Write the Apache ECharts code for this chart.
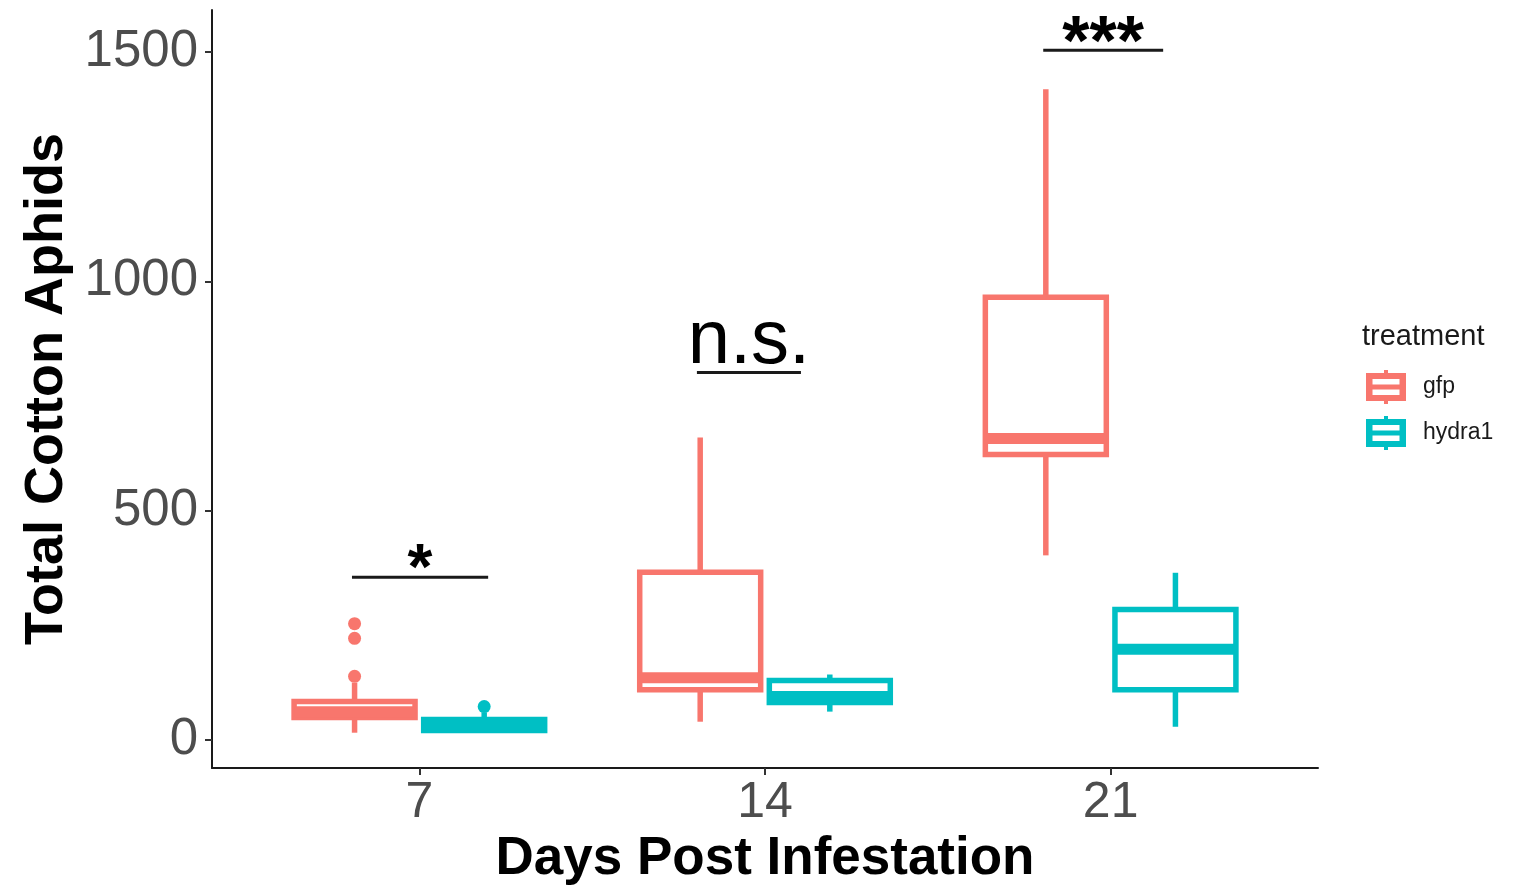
<!DOCTYPE html>
<html>
<head>
<meta charset="utf-8">
<script src="https://cdn.jsdelivr.net/npm/echarts@6/dist/echarts.min.js"></script>
<style>
  html, body { margin: 0; padding: 0; background: #fff; }
  #chart { width: 1514px; height: 887px; }
</style>
</head>
<body>
<div id="chart"></div>
<script>
// days post infestation
const days = ['7', '14', '21']
// [lower whisker, q1, median, q3, upper whisker]
const gfpStats = [
  [15, 48, 61, 83, 124],
  [39, 109, 135, 365, 659],
  [402, 622, 657, 965, 1419]
]
const hydraStats = [
  [15, 20, 28, 44, 59],
  [61, 81, 94, 129, 142],
  [28, 109, 197, 284, 364]
]
// outliers: [day index, value]
const gfpOutliers = [[0, 138], [0, 221], [0, 253]]
const hydraOutliers = [[0, 72]]
// significance brackets
const sigFrom = [0.805, 1.803, 2.805]
const sigTo = [1.199, 2.104, 3.152]
const sigY = [354, 801, 1504]
const sigText = ['*', 'n.s.', '***']
const yTicks = [0, 500, 1000, 1500]

const FONT = '"Liberation Sans", Arial, Helvetica, sans-serif'
const GFP = '#F8766D'
const HYDRA = '#00BFC4'
const DODGE = 0.1875
const BOX_W = 0.35
const LW = 5.5

const legendIcon = 'path://M18,0 L22,0 L22,3 L40,3 L40,31 L22,31 L22,34 L18,34 L18,31 L0,31 L0,3 L18,3 Z ' +
  'M6.5,9 L6.5,14.5 L33.5,14.5 L33.5,9 Z M6.5,19.5 L6.5,25 L33.5,25 L33.5,19.5 Z'

function boxRenderer(offset, color) {
  return function (params, api) {
    const x = api.value(0) + offset
    const low = api.coord([x, api.value(1)])
    const q1 = api.coord([x, api.value(2)])
    const med = api.coord([x, api.value(3)])
    const q3 = api.coord([x, api.value(4)])
    const high = api.coord([x, api.value(5)])
    const w = api.size([BOX_W, 0])[0]
    const left = low[0] - w / 2
    const stroke = { stroke: color, lineWidth: LW, fill: null }
    return {
      type: 'group',
      children: [
        { type: 'line', shape: { x1: low[0], y1: low[1], x2: low[0], y2: q1[1] }, style: stroke },
        { type: 'line', shape: { x1: low[0], y1: q3[1], x2: low[0], y2: high[1] }, style: stroke },
        { type: 'rect', shape: { x: left, y: q3[1], width: w, height: q1[1] - q3[1] },
          style: { fill: '#fff', stroke: color, lineWidth: LW } },
        { type: 'line', shape: { x1: left, y1: med[1], x2: left + w, y2: med[1] },
          style: { stroke: color, lineWidth: LW * 2 } }
      ]
    }
  }
}

// text size and offset (px) from bracket line to label centre
const sigStyle = {
  '*': { size: 64, weight: 'bold', dy: -6 },
  'n.s.': { size: 76, weight: 'normal', dy: -30 },
  '***': { size: 70, weight: 'bold', dy: -5 }
}

function sigRenderer(params, api) {
  const a = api.coord([api.value(0), api.value(2)])
  const b = api.coord([api.value(1), api.value(2)])
  const label = sigText[params.dataIndex]
  const st = sigStyle[label]
  return {
    type: 'group',
    children: [
      { type: 'line', shape: { x1: a[0], y1: a[1], x2: b[0], y2: b[1] },
        style: { stroke: '#1a1a1a', lineWidth: 3 } },
      { type: 'text', x: (a[0] + b[0]) / 2, y: a[1] + st.dy,
        style: { text: label, fill: '#000', font: st.weight + ' ' + st.size + 'px ' + FONT,
          align: 'center', verticalAlign: 'middle' } }
    ]
  }
}

const chart = echarts.init(document.getElementById('chart'))

const option = {
  animation: false,
  backgroundColor: '#fff',
  title: {
    text: 'treatment',
    left: 1362,
    top: 322,
    padding: 0,
    textStyle: { fontSize: 29, fontWeight: 'normal', color: '#1a1a1a', fontFamily: FONT }
  },
  legend: {
    orient: 'vertical',
    left: 1366,
    top: 370,
    padding: 0,
    itemWidth: 40,
    itemHeight: 34,
    itemGap: 12,
    data: [
      { name: 'gfp', icon: legendIcon },
      { name: 'hydra1', icon: legendIcon }
    ],
    textStyle: { fontSize: 23, color: '#1a1a1a', fontFamily: FONT, padding: [0, 0, 0, 12] }
  },
  grid: { left: 212, right: 196, top: 10, bottom: 119, outerBoundsMode: 'none' },
  xAxis: {
    type: 'value',
    min: 0.4,
    max: 3.6,
    name: 'Days Post Infestation',
    nameLocation: 'middle',
    nameGap: 60,
    nameTextStyle: { fontSize: 53, fontWeight: 'bold', color: '#000', fontFamily: FONT },
    splitLine: { show: false },
    axisLine: { show: true, onZero: false, lineStyle: { color: '#1a1a1a', width: 2 } },
    axisTick: { show: true, length: 7, customValues: [1, 2, 3], lineStyle: { color: '#333', width: 2 } },
    axisLabel: {
      customValues: [1, 2, 3],
      formatter: v => days[Math.round(v) - 1],
      fontSize: 50, color: '#4d4d4d', fontFamily: FONT, margin: 10
    }
  },
  yAxis: {
    type: 'value',
    min: -62,
    max: 1592,
    name: 'Total Cotton Aphids',
    nameLocation: 'middle',
    nameGap: 132,
    nameTextStyle: { fontSize: 54, fontWeight: 'bold', color: '#000', fontFamily: FONT },
    splitLine: { show: false },
    axisLine: { show: true, onZero: false, lineStyle: { color: '#1a1a1a', width: 2 } },
    axisTick: { show: true, length: 7, customValues: yTicks, lineStyle: { color: '#333', width: 2 } },
    axisLabel: {
      customValues: yTicks,
      formatter: v => String(v),
      fontSize: 51, color: '#4d4d4d', fontFamily: FONT, margin: 14
    }
  },
  series: [
    {
      name: 'gfp',
      type: 'custom',
      itemStyle: { color: GFP },
      renderItem: boxRenderer(-DODGE, GFP),
      encode: { x: 0, y: [1, 2, 3, 4, 5] },
      data: gfpStats.map((s, i) => [i + 1, ...s])
    },
    {
      name: 'hydra1',
      type: 'custom',
      itemStyle: { color: HYDRA },
      renderItem: boxRenderer(DODGE, HYDRA),
      encode: { x: 0, y: [1, 2, 3, 4, 5] },
      data: hydraStats.map((s, i) => [i + 1, ...s])
    },
    {
      name: 'gfp',
      type: 'scatter',
      symbolSize: 13,
      itemStyle: { color: GFP, opacity: 1 },
      data: gfpOutliers.map(o => [o[0] + 1 - DODGE, o[1]])
    },
    {
      name: 'hydra1',
      type: 'scatter',
      symbolSize: 13,
      itemStyle: { color: HYDRA, opacity: 1 },
      data: hydraOutliers.map(o => [o[0] + 1 + DODGE, o[1]])
    },
    {
      name: 'significance',
      type: 'custom',
      renderItem: sigRenderer,
      encode: { x: [0, 1], y: 2 },
      data: sigFrom.map((f, i) => [f, sigTo[i], sigY[i]])
    }
  ]
}

chart.setOption(option)
</script>
</body>
</html>
